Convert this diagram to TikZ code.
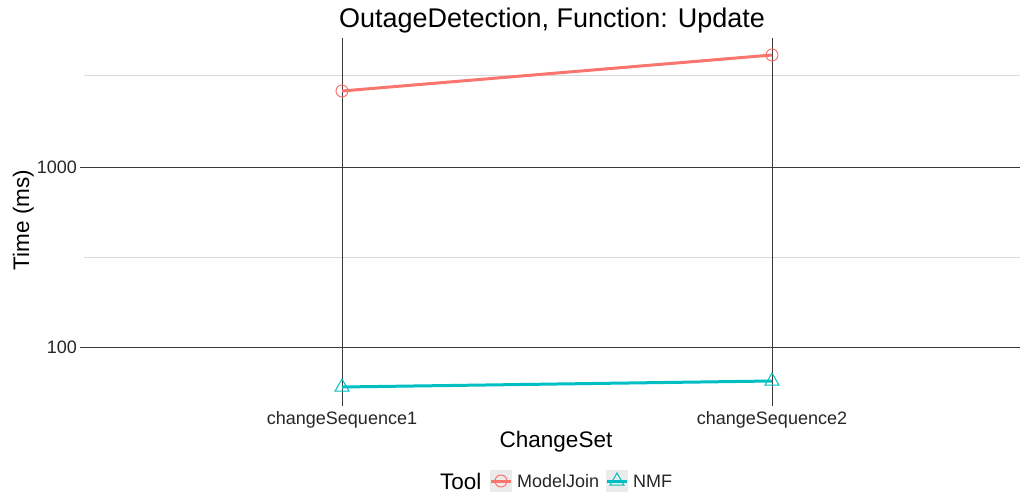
\documentclass[tikz,border=0pt]{standalone}
\usepackage{fontspec}
\setmainfont{Liberation Sans}
\usetikzlibrary{shapes.geometric}
\definecolor{mjcol}{HTML}{F8766D}
\definecolor{nmfcol}{HTML}{00BFC4}
\definecolor{majorcol}{HTML}{3A3A3A}
\definecolor{minorcol}{HTML}{D9D9D9}
\definecolor{keybg}{HTML}{EBEBEB}
\begin{document}
\begin{tikzpicture}[x=1pt,y=-1pt,
  majorline/.style={draw=majorcol,line width=0.9pt},
  minorline/.style={draw=minorcol,line width=0.9pt},
  ticklab/.style={font=\fontsize{18}{18}\selectfont,text=black!85,inner sep=0pt},
  axtitle/.style={font=\fontsize{22.5}{22.5}\selectfont,inner sep=0pt},
  mjline/.style={draw=mjcol,line width=3pt},
  nmfline/.style={draw=nmfcol,line width=3pt},
  mjpt/.style={circle,draw=mjcol,line width=1pt,minimum size=12pt,inner sep=0pt},
  nmfpt/.style={regular polygon,regular polygon sides=3,draw=nmfcol,line width=1pt,minimum size=16pt,inner sep=0pt},
  keybox/.style={fill=keybg,draw=none,minimum size=22pt,inner sep=0pt}
]
\useasboundingbox (0,0) rectangle (1020,492);
% grid
\coordinate (mn1a) at (84,75);  \coordinate (mn1b) at (1020,75);
\coordinate (mn2a) at (84,257); \coordinate (mn2b) at (1020,257);
\draw[minorline] (mn1a) -- (mn1b);
\draw[minorline] (mn2a) -- (mn2b);
\coordinate (mj1a) at (80,167); \coordinate (mj1b) at (1020,167);
\coordinate (mj2a) at (80,347); \coordinate (mj2b) at (1020,347);
\draw[majorline] (mj1a) -- (mj1b);
\draw[majorline] (mj2a) -- (mj2b);
\coordinate (v1a) at (342,38); \coordinate (v1b) at (342,406);
\coordinate (v2a) at (772,38); \coordinate (v2b) at (772,406);
\draw[majorline] (v1a) -- (v1b);
\draw[majorline] (v2a) -- (v2b);
% data
\coordinate (m1) at (342,91);
\coordinate (m2) at (772,55);
\coordinate (n1) at (342,387);
\coordinate (n2) at (772,381);
\draw[mjline] (m1) -- (m2);
\draw[nmfline] (n1) -- (n2);
\node[mjpt] (pm1) at (m1) {};
\node[mjpt] (pm2) at (m2) {};
\node[nmfpt] (pn1) at (n1) {};
\node[nmfpt] (pn2) at (n2) {};
% axis labels
\node[ticklab,anchor=east] (y1000) at (77,167) {1000};
\node[ticklab,anchor=east] (y100) at (77,347) {100};
\node[ticklab,anchor=base] (x1) at (342,424) {changeSequence1};
\node[ticklab,anchor=base] (x2) at (772,424) {changeSequence2};
\node[axtitle,anchor=base] (xt) at (556,447) {ChangeSet};
\node[axtitle,anchor=base,rotate=90] (yt) at (29,220) {Time (ms)};
\node[font=\fontsize{27}{27}\selectfont,inner sep=0pt,anchor=base] (title) at (552,28) {OutageDetection, Function: Update};
% legend
\node[axtitle,anchor=base west] (lt) at (440,489) {Tool};
\node[keybox] (k1) at (501,481) {};
\coordinate (k1a) at (491,481); \coordinate (k1b) at (511,481);
\draw[mjline] (k1a) -- (k1b);
\node[mjpt] (k1p) at (k1) {};
\node[ticklab,anchor=base west] (l1) at (517,487.5) {ModelJoin};
\node[keybox] (k2) at (617,481) {};
\coordinate (k2a) at (607,481); \coordinate (k2b) at (627,481);
\draw[nmfline] (k2a) -- (k2b);
\node[nmfpt] (k2p) at (k2) {};
\node[ticklab,anchor=base west] (l2) at (633,487.5) {NMF};
\end{tikzpicture}
\end{document}
